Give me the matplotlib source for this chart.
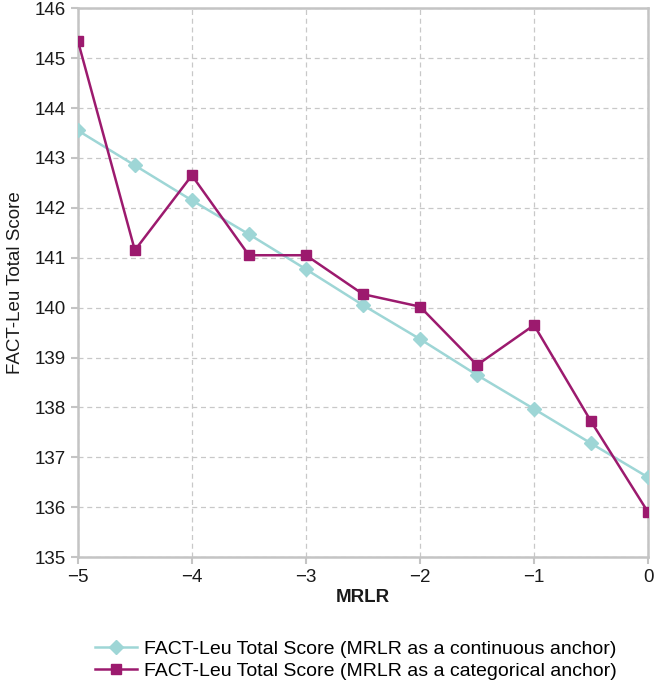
import matplotlib.pyplot as plt

plt.rcParams['font.family'] = ['Liberation Sans', 'DejaVu Sans']

# ========== Data ==========
mrlr = [-5, -4.5, -4, -3.5, -3, -2.5, -2, -1.5, -1, -0.5, 0]
continuous = [143.55, 142.85, 142.15, 141.47, 140.77, 140.05, 139.37, 138.65, 137.97, 137.28, 136.6]
categorical = [145.35, 141.15, 142.65, 141.05, 141.05, 140.27, 140.02, 138.85, 139.65, 137.72, 135.9]
label_cont = 'FACT-Leu Total Score (MRLR as a continuous anchor)'
label_cat = 'FACT-Leu Total Score (MRLR as a categorical anchor)'

cyan = '#9ed6d6'
magenta = '#9c1a6e'
frame = '#c4c4c4'

fig = plt.figure(figsize=(6.54, 6.82), dpi=100)
ax = fig.add_axes([0.119, 0.183, 0.872, 0.805])

ax.plot(mrlr, continuous, color=cyan, marker='D', markersize=7, linewidth=1.8, label=label_cont, zorder=3)
ax.plot(mrlr, categorical, color=magenta, marker='s', markersize=7, linewidth=1.8, label=label_cat, zorder=4)

ax.set_xlim(-5, 0)
ax.set_ylim(135, 146)
ax.set_xticks(range(-5, 1))
ax.set_xticklabels(['\u22125', '\u22124', '\u22123', '\u22122', '\u22121', '0'])
ax.set_yticks(range(135, 147))

ax.grid(True, color='#c8c8c8', linestyle=(0, (4, 3)), linewidth=0.9)
ax.set_axisbelow(True)
for s in ax.spines.values():
    s.set_color(frame)
    s.set_linewidth(1.8)
ax.tick_params(axis='both', colors=frame, labelcolor='#1a1a1a', labelsize=13.5, length=5, width=1.5)

ax.set_ylabel('FACT-Leu Total Score', fontsize=13.5, color='#1a1a1a', labelpad=8)
ax.set_xlabel('MRLR', fontsize=13.5, fontweight='bold', color='#1a1a1a', labelpad=2)

fig.legend(loc='center left', bbox_to_anchor=(0.145, 0.032), frameon=False, fontsize=14,
           handlelength=2.15, handletextpad=0.4, labelspacing=0.25,
           borderpad=0, borderaxespad=0)

fig.savefig('out.png', dpi=100)
